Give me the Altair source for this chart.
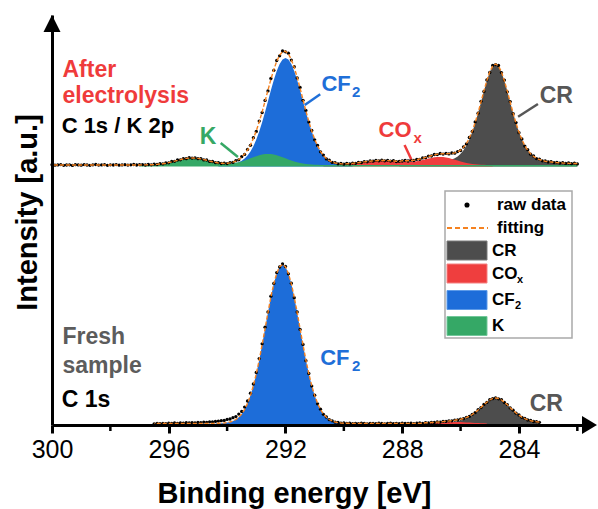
import altair as alt
import numpy as np
import pandas as pd

# ---------------- data ----------------
STEP = 0.1  # eV spacing of the spectra

# After electrolysis, C 1s / K 2p  (intensity above that spectrum's baseline)
UPPER_START = 300.0
UPPER_RAW = [
    0.3, -0.2, 0.1, 0.4, -0.3, 0.0, 0.2, -0.4, 0.3, 0.1,
    -0.2, 0.4, 0.0, -0.3, 0.2, 0.5, -0.1, 0.1, 0.3, -0.3,
    0.2, 0.0, 0.4, -0.2, 0.1, 0.3, -0.1, 0.2, 0.5, 0.0,
    0.3, 0.4, 0.0, 0.5, 0.2, 0.8, 0.5, 1.3, 1.1, 2.1,
    2.2, 3.5, 3.7, 5.0, 5.2, 6.4, 6.3, 7.3, 6.8, 7.2,
    6.3, 6.4, 5.1, 5.0, 3.6, 3.5, 2.3, 2.3, 1.5, 1.9,
    1.4, 2.4, 2.6, 4.3, 5.2, 8.3, 10.6, 15.6, 19.7, 27.3,
    33.5, 43.9, 52.4, 64.6, 74.1, 86.5, 94.7, 104.5, 109.2, 114.0,
    113.2, 111.8, 104.9, 98.3, 87.1, 77.5, 64.7, 54.6, 42.9, 34.5,
    25.2, 19.6, 13.2, 9.9, 6.1, 4.8, 2.6, 2.3, 1.2, 1.5,
    0.8, 1.5, 1.1, 1.9, 1.7, 2.6, 2.4, 3.4, 3.2, 4.1,
    3.8, 4.6, 4.2, 4.9, 4.2, 4.7, 3.9, 4.3, 3.4, 3.7,
    4.0, 4.5, 4.0, 4.8, 4.5, 5.7, 5.7, 7.1, 7.3, 8.9,
    9.0, 10.5, 10.4, 11.5, 10.9, 11.7, 11.1, 12.0, 11.8, 13.4,
    14.5, 18.0, 21.1, 27.5, 33.5, 43.1, 51.8, 63.7, 73.5, 85.1,
    92.5, 99.6, 100.4, 99.5, 92.4, 84.9, 73.2, 63.4, 51.3, 42.4,
    32.3, 26.1, 18.9, 15.3, 10.8, 9.0, 6.4, 5.9, 4.2, 4.1,
    3.0, 3.3, 2.4, 2.7, 1.9, 2.3, 1.6, 2.0, 1.3, 1.8,
    1.1,
]
K_UP_START = 297.0
K_UP = [
    0.0, 0.1, 0.1, 0.2, 0.3, 0.4, 0.6, 1.0, 1.3, 1.8,
    2.4, 3.1, 3.9, 4.6, 5.4, 6.0, 6.6, 6.9, 7.0, 6.9,
    6.6, 6.1, 5.4, 4.7, 3.9, 3.2, 2.6, 2.0, 1.7, 1.4,
    1.4, 1.5, 1.8, 2.2, 2.8, 3.6, 4.6, 5.6, 6.7, 7.8,
    8.8, 9.7, 10.4, 10.9, 11.0, 10.9, 10.4, 9.7, 8.8, 7.8,
    6.7, 5.6, 4.5, 3.6, 2.7, 2.1, 1.5, 1.1, 0.7, 0.5,
    0.3, 0.2, 0.1, 0.1, 0.0,
]
CF2_UP_START = 294.3
CF2_UP = [
    0.0, 0.1, 0.2, 0.3, 0.6, 1.0, 1.7, 2.7, 4.2, 6.4,
    9.4, 13.5, 18.8, 25.4, 33.4, 42.7, 52.9, 63.8, 74.7, 85.0,
    94.0, 101.0, 105.5, 107.0, 105.5, 101.0, 94.0, 85.0, 74.7, 63.8,
    52.9, 42.7, 33.4, 25.4, 18.8, 13.5, 9.4, 6.4, 4.2, 2.7,
    1.7, 1.0, 0.6, 0.3, 0.2, 0.1, 0.0,
]
COX_UP_START = 290.7
COX_UP = [
    0.0, 0.1, 0.2, 0.2, 0.3, 0.5, 0.6, 0.8, 1.0, 1.3,
    1.6, 2.0, 2.3, 2.7, 3.1, 3.5, 3.8, 4.1, 4.3, 4.5,
    4.5, 4.5, 4.4, 4.2, 4.0, 3.7, 3.4, 3.2, 3.1, 3.1,
    3.2, 3.4, 3.8, 4.4, 5.0, 5.7, 6.5, 7.1, 7.7, 8.0,
    8.1, 7.9, 7.5, 6.9, 6.1, 5.3, 4.4, 3.6, 2.8, 2.1,
    1.5, 1.1, 0.7, 0.5, 0.3, 0.2, 0.1, 0.1, 0.0,
]
CR_UP_START = 288.1
CR_UP = [
    0.0, 1.1, 1.1, 1.2, 1.3, 1.4, 1.5, 1.6, 1.7, 1.9,
    2.0, 2.2, 2.4, 2.7, 3.0, 3.3, 3.8, 4.5, 5.5, 6.8,
    8.6, 11.2, 14.8, 19.4, 25.5, 32.9, 41.8, 51.9, 62.8, 73.9,
    84.3, 93.1, 98.9, 101.0, 98.9, 93.1, 84.3, 73.9, 62.8, 51.9,
    41.8, 32.9, 25.5, 19.4, 14.8, 11.2, 8.6, 6.8, 5.5, 4.5,
    3.8, 3.3, 3.0, 2.7, 2.4, 2.2, 2.0, 1.9, 1.7, 1.6,
    1.5, 1.4,
]

# Fresh sample, C 1s
LOWER_START = 296.5
LOWER_RAW = [
    -0.3, 0.1, -0.1, 0.2, -0.2, 0.3, 0.1, 0.5, 0.2, 0.6,
    0.4, 0.8, 0.5, 0.9, 0.7, 1.1, 0.9, 1.4, 1.2, 1.7,
    1.5, 2.1, 2.4, 2.8, 3.1, 4.1, 4.5, 5.8, 6.9, 9.4,
    12.1, 16.4, 22.5, 30.3, 39.5, 51.1, 64.9, 79.7, 96.3, 111.6,
    127.3, 140.0, 150.9, 156.5, 159.6, 157.1, 149.7, 140.3, 125.8, 111.5,
    94.1, 79.1, 62.8, 50.0, 37.4, 28.3, 19.7, 14.3, 9.2, 6.5,
    3.8, 2.7, 1.3, 1.1, 0.3, 0.6, 0.0, 0.3, -0.2, 0.2,
    -0.1, 0.4, 0.0, -0.3, 0.2, 0.1, -0.2, 0.3, 0.0, -0.3,
    0.1, 0.4, -0.1, 0.2, -0.2, 0.3, 0.0, 0.1, 0.4, -0.1,
    0.3, 0.5, 0.2, 0.9, 0.6, 1.2, 1.0, 1.6, 1.4, 2.1,
    2.1, 2.7, 2.7, 3.4, 3.5, 4.4, 4.8, 6.2, 7.1, 9.2,
    10.9, 13.8, 15.9, 19.1, 21.1, 23.8, 24.8, 25.7, 24.7, 23.8,
    21.0, 18.9, 15.6, 13.3, 10.3, 8.5, 6.2, 5.1, 3.5, 3.0,
    2.0, 1.9, 1.2,
]
CF2_LO_START = 294.4
CF2_LO = [
    0.0, 0.2, 0.3, 0.5, 0.9, 1.5, 2.5, 4.0, 6.3, 9.5,
    14.0, 20.1, 28.0, 37.8, 49.7, 63.4, 78.7, 94.8, 111.0, 126.4,
    139.7, 150.1, 156.7, 159.0, 156.7, 150.1, 139.7, 126.4, 111.0, 94.8,
    78.7, 63.4, 49.7, 37.8, 28.0, 20.1, 14.0, 9.5, 6.3, 4.0,
    2.5, 1.5, 0.9, 0.5, 0.3, 0.2, 0.0,
]
COX_LO_START = 287.3
COX_LO = [
    0.0, 0.2, 0.3, 0.4, 0.6, 0.7, 0.9, 1.1, 1.3, 1.4,
    1.5, 1.5, 1.5, 1.4, 1.3, 1.1, 0.9, 0.7, 0.6, 0.4,
    0.3, 0.2, 0.0,
]
CR_LO_START = 287.4
CR_LO = [
    0.0, 0.4, 0.5, 0.5, 0.6, 0.6, 0.7, 0.7, 0.8, 1.0,
    1.1, 1.4, 1.7, 2.2, 2.8, 3.7, 4.9, 6.4, 8.3, 10.5,
    13.1, 15.8, 18.7, 21.3, 23.5, 25.0, 25.5, 25.0, 23.5, 21.3,
    18.7, 15.8, 13.1, 10.5, 8.3, 6.4, 4.9, 3.7, 2.8, 2.2,
    1.7, 1.4,
]

X_TICKS = [300, 296, 292, 288, 284]
X_MINOR_TICKS = [298, 294, 290, 286, 282]

# ---------------- text ----------------
ANNOT_TEXT = ["After", "electrolysis", "C 1s / K 2p", "K", "CF", "2", "CO", "x", "CR",
              "Fresh", "sample", "C 1s", "CF", "2", "CR"]
ANNOT_COLOR = ["#ef3b3b", "#ef3b3b", "#000000", "#36a865", "#1f6fd8", "#1f6fd8",
               "#ef3b3b", "#ef3b3b", "#575757",
               "#5c5c5c", "#5c5c5c", "#000000", "#1f6fd8", "#1f6fd8", "#575757"]
LEGEND_TEXT = ["raw data", "fitting", "CR", "CO", "CF", "K"]
LEGEND_SUB = ["", "", "", "x", "2", ""]

# ---------------- style / layout ----------------
FONT = "Liberation Sans"
COLORS = {"CR": "#4d4d4d", "COx": "#ef3e3e", "CF2": "#1d6dd9", "K": "#35a866"}
EDGE = {"CR": "#7a7a7a", "COx": "#f48080", "CF2": "#5d9be8", "K": "#72c79a"}
UPPER_OFFSET = 260.0
LOWER_OFFSET = 1.5
ANNOT_E = [299.64, 299.64, 299.67, 294.94, 290.77, 289.72, 288.81, 287.61, 283.29,
           299.64, 299.64, 299.67, 290.81, 289.72, 283.63]
ANNOT_I = [348.3, 322.0, 292.5, 281.0, 334.3, 328.0, 287.7, 281.7, 322.3,
           81.0, 52.0, 18.3, 60.0, 54.5, 14.3]
ANNOT_SIZE = [23, 23, 22, 23, 22, 15, 22, 15, 23, 23, 23, 23, 22, 15, 23]
LEADER_COLOR = ["#36a865", "#1f6fd8", "#575757", "#ef3b3b"]
LEADER_E1 = [294.22, 290.81, 283.35, 287.92]
LEADER_E2 = [293.63, 291.34, 284.03, 287.69]
LEADER_I1 = [282.0, 330.7, 321.0, 280.0]
LEADER_I2 = [268.0, 320.0, 308.3, 265.7]


def to_series(start, values):
    e = np.round(start - STEP * np.arange(len(values)), 1)
    return pd.Series(np.asarray(values, dtype=float), index=e)


up_raw = to_series(UPPER_START, UPPER_RAW)
lo_raw = to_series(LOWER_START, LOWER_RAW)
up_comp = {
    "CR": to_series(CR_UP_START, CR_UP),
    "COx": to_series(COX_UP_START, COX_UP),
    "CF2": to_series(CF2_UP_START, CF2_UP),
    "K": to_series(K_UP_START, K_UP),
}
lo_comp = {
    "CR": to_series(CR_LO_START, CR_LO),
    "COx": to_series(COX_LO_START, COX_LO),
    "CF2": to_series(CF2_LO_START, CF2_LO),
}

up_fit = sum(s.reindex(up_raw.index, fill_value=0.0) for s in up_comp.values()) + UPPER_OFFSET
lo_fit = sum(s.reindex(lo_raw.index, fill_value=0.0) for s in lo_comp.values()) + LOWER_OFFSET

xs = alt.Scale(domain=[281.6, 300.0], reverse=True, nice=False, zero=False)
ys = alt.Scale(domain=[0, 410], nice=False, zero=False)

x_axis = alt.Axis(values=X_TICKS, format="d", title="Binding energy [eV]",
                  titleFont=FONT, titleFontSize=29, titleFontWeight="bold", titleColor="black",
                  titleX=242, titleY=77, titleAlign="center", titleBaseline="alphabetic",
                  labelFont=FONT, labelFontSize=25, labelColor="black", labelPadding=4,
                  labelFlush=False, labelOverlap=False,
                  domainColor="black", domainWidth=3, tickColor="black", tickWidth=3,
                  tickSize=8, grid=False, zindex=1)
y_axis = alt.Axis(title="Intensity [a.u.]", labels=False, ticks=False, grid=False,
                  domainColor="black", domainWidth=3,
                  titleFont=FONT, titleFontSize=29, titleFontWeight="bold", titleColor="black",
                  titleX=-25, titleY=197, titleAngle=270, titleAlign="center",
                  titleBaseline="middle", zindex=1)

layers = []
first = True


def xenc(field="energy"):
    return alt.X(f"{field}:Q", scale=xs)


def yenc(field="val"):
    return alt.Y(f"{field}:Q", scale=ys)


def area(df, color):
    global first
    if first:
        xe = alt.X("energy:Q", scale=xs, axis=x_axis)
        ye = alt.Y("hi:Q", scale=ys, axis=y_axis)
    else:
        xe, ye = xenc(), yenc("hi")
    first = False
    return alt.Chart(df).mark_area(color=color, opacity=1, strokeWidth=0).encode(
        x=xe, y=ye, y2="lo:Q")


for name in ["CR", "COx", "CF2"]:
    s = lo_comp[name]
    df = pd.DataFrame({"energy": s.index, "hi": LOWER_OFFSET + s.values, "lo": 0.0})
    layers.append(area(df, COLORS[name]))

for name in ["CR", "COx", "CF2", "K"]:
    s = up_comp[name]
    if name == "K":
        grid = up_raw.index[up_raw.index <= K_UP_START]
        s = s.reindex(grid, fill_value=0.0)
    df = pd.DataFrame({"energy": s.index, "hi": UPPER_OFFSET + s.values,
                       "lo": UPPER_OFFSET - 1.5})
    layers.append(area(df, COLORS[name]))

raw_df = pd.concat([
    pd.DataFrame({"energy": up_raw.index, "val": up_raw.values + UPPER_OFFSET, "spec": "up"}),
    pd.DataFrame({"energy": lo_raw.index, "val": lo_raw.values + LOWER_OFFSET, "spec": "lo"}),
])
layers.append(alt.Chart(raw_df).mark_circle(size=11, color="black", opacity=1).encode(
    x=xenc(), y=yenc()))

for fit in (up_fit, lo_fit):
    fdf = pd.DataFrame({"energy": fit.index, "val": fit.values})
    layers.append(alt.Chart(fdf).mark_line(color="#f58220", strokeWidth=1.4,
                                           strokeDash=[4, 2]).encode(
        x=xenc(), y=yenc(), order="energy:Q"))

# minor ticks
layers.append(alt.Chart(pd.DataFrame({"energy": X_MINOR_TICKS})).mark_rule(
    color="black", strokeWidth=2.5).encode(
    x=xenc(), y=alt.value(410), y2=alt.value(416)))

# leader lines
lead_df = pd.DataFrame({"energy": LEADER_E1, "e2": LEADER_E2, "val": LEADER_I1,
                        "i2": LEADER_I2, "color": LEADER_COLOR})
layers.append(alt.Chart(lead_df).mark_rule(strokeWidth=2.5).encode(
    x=xenc(), x2="e2:Q", y=yenc(), y2="i2:Q",
    color=alt.Color("color:N", scale=None)))

# annotations
ann_df = pd.DataFrame({"text": ANNOT_TEXT, "energy": ANNOT_E, "val": ANNOT_I,
                       "color": ANNOT_COLOR, "fs": ANNOT_SIZE})
layers.append(alt.Chart(ann_df).mark_text(align="left", baseline="alphabetic", font=FONT,
                                          fontWeight="bold").encode(
    x=xenc(), y=yenc(), text="text:N",
    color=alt.Color("color:N", scale=None),
    size=alt.Size("fs:Q", scale=None)))

# legend (plot pixel coordinates)
one = pd.DataFrame({"k": [0]})
layers.append(alt.Chart(one).mark_rect(fill="white", stroke="#a9a9a9", strokeWidth=1.5).encode(
    x=alt.value(393), x2=alt.value(520), y=alt.value(176), y2=alt.value(323)))
ROW_Y = [190, 213, 235.5, 258.5, 285, 311]
layers.append(alt.Chart(one).mark_circle(size=26, color="black", opacity=1).encode(
    x=alt.value(415), y=alt.value(ROW_Y[0])))
layers.append(alt.Chart(one).mark_rule(color="#f58220", strokeWidth=2, strokeDash=[5, 3]).encode(
    x=alt.value(395), x2=alt.value(436), y=alt.value(ROW_Y[1])))
for i, name in enumerate(["CR", "COx", "CF2", "K"]):
    yc = ROW_Y[i + 2]
    layers.append(alt.Chart(one).mark_rect(fill=COLORS[name], stroke=EDGE[name],
                                           strokeWidth=1).encode(
        x=alt.value(395), x2=alt.value(435), y=alt.value(yc - 9.5), y2=alt.value(yc + 9.5)))
for i, (txt, sub) in enumerate(zip(LEGEND_TEXT, LEGEND_SUB)):
    tx = 445 if i < 2 else 440
    layers.append(alt.Chart(one).mark_text(text=txt, align="left", baseline="middle", font=FONT,
                                           fontWeight="bold", fontSize=17, color="black").encode(
        x=alt.value(tx), y=alt.value(ROW_Y[i])))
    if sub:
        sx = 465 if sub == "x" else 463
        layers.append(alt.Chart(one).mark_text(text=sub, align="left", baseline="middle",
                                               font=FONT, fontWeight="bold", fontSize=11,
                                               color="black").encode(
            x=alt.value(sx), y=alt.value(ROW_Y[i] + 6)))

# axis arrow heads
layers.append(alt.Chart(one).mark_point(shape="M -0.83 -1 L 0.83 0 L -0.83 1 Z", size=324,
                                        filled=True, color="black", opacity=1,
                                        strokeWidth=0).encode(
    x=alt.value(537.5), y=alt.value(410)))
layers.append(alt.Chart(one).mark_point(shape="M -1 1 L 0 -1 L 1 1 Z", size=289, filled=True,
                                        color="black", opacity=1, strokeWidth=0).encode(
    x=alt.value(0), y=alt.value(8.5)))

chart = alt.layer(*layers).properties(
    width=537, height=410,
    padding={"left": 52, "top": 15, "right": 9, "bottom": 84},
    autosize=alt.AutoSizeParams(type="none"),
    background="white",
).configure_view(stroke=None)

chart.save("out.html", embed_options={"renderer": "svg", "actions": False})
